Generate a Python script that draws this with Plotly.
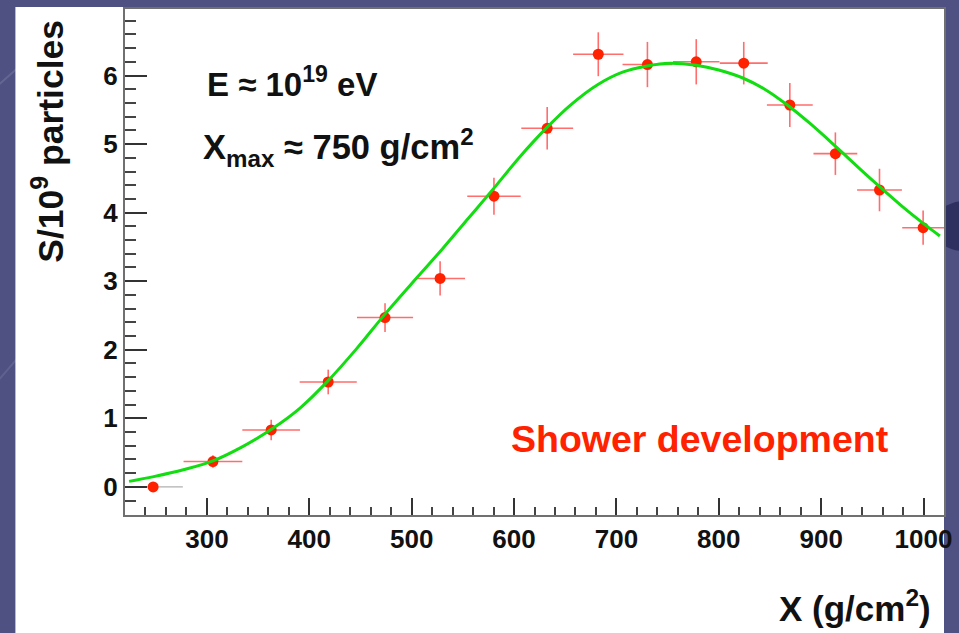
import plotly.graph_objects as go

# Measured longitudinal profile: shower size vs slant depth
depth = [247.5, 305.9, 362.8, 418.5, 474.0, 527.8, 580.4, 632.4,
         682.3, 730.3, 778.0, 824.4, 869.4, 913.9, 957.0, 999.6]
size = [0.00, 0.37, 0.83, 1.53, 2.47, 3.04, 4.24, 5.23,
        6.31, 6.16, 6.20, 6.18, 5.57, 4.86, 4.33, 3.78]
depth_err = [29.0, 28.7, 28.2, 27.9, 27.4, 24.3, 26.1, 25.3,
             24.6, 24.3, 22.7, 23.4, 22.4, 21.4, 21.9, 20.4]
size_err = [0.00, 0.09, 0.15, 0.18, 0.21, 0.25, 0.27, 0.31,
            0.32, 0.33, 0.33, 0.31, 0.32, 0.31, 0.31, 0.25]

# Fitted profile curve, sampled along depth
fit_x = [224, 248, 277, 306, 334, 363, 391, 418.5, 446.5, 474, 505, 530, 555,
         580, 606, 632, 656, 682, 706, 730, 752, 778, 800, 824, 846, 867, 890,
         916, 937, 957, 980, 1000, 1016]
fit_y = [0.08, 0.15, 0.25, 0.38, 0.58, 0.84, 1.15, 1.55, 2.02, 2.52, 3.05, 3.47,
         3.91, 4.35, 4.82, 5.24, 5.58, 5.87, 6.05, 6.14, 6.18, 6.15, 6.08, 5.96,
         5.79, 5.57, 5.29, 4.94, 4.65, 4.38, 4.08, 3.84, 3.66]

x_ticks = [300, 400, 500, 600, 700, 800, 900, 1000]
y_ticks = [0, 1, 2, 3, 4, 5, 6]

FONT = "Liberation Sans"
W, H = 959, 633
L, R, T, B = 125, 12, 7, 118
PW, PH = W - L - R, H - T - B


def px(xp):
    return (xp - L) / PW


def py(yp):
    return (H - B - yp) / PH


fig = go.Figure()

# first bin drawn with a grey horizontal bar
fig.add_trace(go.Scatter(
    x=depth[:1], y=size[:1], mode="markers",
    marker=dict(color="#ff2200", size=11),
    error_x=dict(type="data", array=depth_err[:1], color="#b0b0b0",
                 thickness=1.2, width=0),
    showlegend=False, cliponaxis=True))

fig.add_trace(go.Scatter(
    x=depth[1:], y=size[1:], mode="markers",
    marker=dict(color="#ff2200", size=11),
    error_x=dict(type="data", array=depth_err[1:], color="rgba(255,60,60,0.75)",
                 thickness=1.6, width=0),
    error_y=dict(type="data", array=size_err[1:], color="rgba(255,60,60,0.75)",
                 thickness=1.6, width=0),
    showlegend=False, cliponaxis=True))

fig.add_trace(go.Scatter(
    x=fit_x, y=fit_y, mode="lines", line=dict(color="#11dd11", width=3, shape="spline"),
    showlegend=False))

axis_common = dict(
    showgrid=False, zeroline=False, showline=True, linecolor="#707070",
    linewidth=2, mirror=True, ticks="inside", tickcolor="#333333",
    tickwidth=2, tickfont=dict(family=FONT, size=26, color="#111111", weight="bold"),
)

fig.update_xaxes(
    range=[220, 1020], tickvals=x_ticks, ticklen=17,
    minor=dict(dtick=20, tick0=0, ticklen=8, ticks="inside", tickcolor="#444444",
               tickwidth=1.5),
    **axis_common)
fig.update_yaxes(
    range=[-0.41, 6.97], tickvals=y_ticks, ticklen=22,
    minor=dict(dtick=0.2, tick0=0, ticklen=11, ticks="inside", tickcolor="#444444",
               tickwidth=1.5),
    **axis_common)

shapes = [
    # background swirls
    dict(type="circle", xref="paper", yref="paper", x0=px(935), x1=px(1000),
         y0=py(250), y1=py(200), fillcolor="#2e3160", line=dict(width=0), layer="below"),
    dict(type="path", xref="paper", yref="paper",
         path=f"M {px(-40)},{py(120)} Q {px(10)},{py(70)} {px(60)},{py(30)}",
         line=dict(color="rgba(255,255,255,0.12)", width=2), layer="below"),
    dict(type="path", xref="paper", yref="paper",
         path=f"M {px(-40)},{py(420)} Q {px(0)},{py(380)} {px(40)},{py(330)}",
         line=dict(color="rgba(255,255,255,0.10)", width=2), layer="below"),
    # white canvas
    dict(type="rect", xref="paper", yref="paper", x0=px(15), x1=px(947),
         y0=py(5), y1=py(H + 5), fillcolor="white", line=dict(width=0), layer="below"),
]

annotations = [
    dict(text="<b>E ≈ 10<sup>19</sup> eV</b>", x=px(205), y=py(80), xref="paper",
         yref="paper", xanchor="left", yanchor="middle", showarrow=False,
         font=dict(family=FONT, size=33, color="#111111")),
    dict(text="<b>X<sub>max</sub> ≈ 750 g/cm<sup>2</sup></b>", x=px(201), y=py(146),
         xref="paper", yref="paper", xanchor="left", yanchor="middle", showarrow=False,
         font=dict(family=FONT, size=34.5, color="#111111")),
    dict(text="<b>Shower development</b>", x=px(702), y=py(439), xref="paper",
         yref="paper", xanchor="center", yanchor="middle", showarrow=False,
         font=dict(family=FONT, size=37.5, color="#ff2200")),
    dict(text="<b>X (g/cm<sup>2</sup>)</b>", x=px(936), y=py(606), xref="paper",
         yref="paper", xanchor="right", yanchor="middle", showarrow=False,
         font=dict(family=FONT, size=35, color="#111111")),
    dict(text="<b>S/10<sup>9</sup> particles</b>", x=px(48), y=py(16), xref="paper",
         yref="paper", xanchor="center", yanchor="top", textangle=-90, showarrow=False,
         font=dict(family=FONT, size=35.5, color="#111111")),
]

fig.update_layout(
    width=W, height=H,
    margin=dict(l=L, r=R, t=T, b=B, pad=0),
    paper_bgcolor="#4e5182", plot_bgcolor="white",
    shapes=shapes, annotations=annotations,
)

fig.write_html("out.html")
